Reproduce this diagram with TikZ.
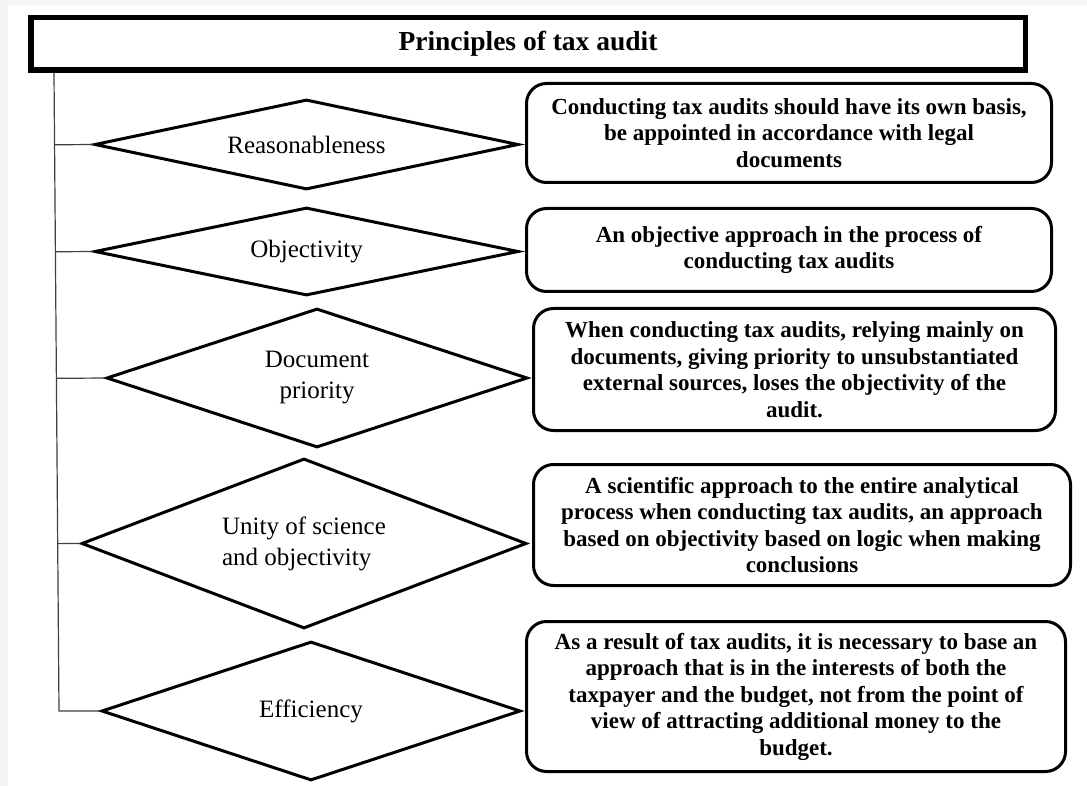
\documentclass[tikz,border=0pt]{standalone}
\usepackage{fontspec}
\setmainfont{Liberation Serif}
\usetikzlibrary{shapes.geometric,calc}

\tikzset{
        principle/.style={diamond,draw,line width=3pt,inner sep=0pt,shape aspect=4.5,align=center,font=\fontsize{25}{31}\selectfont},
        descr/.style={draw,rounded corners=20pt,line width=3pt,inner sep=0pt,align=center,font=\fontsize{23}{26.5}\selectfont\bfseries},
        header/.style={draw,line width=5.5pt,inner sep=0pt,font=\fontsize{27.5}{30}\selectfont\bfseries},
        branch/.style={black!75,line width=1.2pt}
}

\begin{document}
\begin{tikzpicture}[x=1pt,y=-1pt]
        \fill[black!4] (0,0) rectangle (1087,786);
        \fill[white] (8,5) rectangle (1087,786);
        \useasboundingbox (0,0) rectangle (1087,786);
        \node[header,minimum width=994.5pt,minimum height=52.5pt] (title) at (528,44) {Principles of tax audit};
        \node[principle,minimum width=424pt,minimum height=90pt] (r1) at (306.5,144.5) {Reasonableness};
        \node[principle,minimum width=424pt,minimum height=88pt] (r2) at (306.5,251.5) {Objectivity};
        \node[principle,shape aspect=3,minimum width=421pt,minimum height=139pt] (r3) at (317,378) {Document\\priority};
        \node[principle,shape aspect=2.6,align=left,minimum width=445pt,minimum height=170pt] (r4) at (304,543.5) {Unity of science\\and objectivity};
        \node[principle,shape aspect=3,minimum width=419pt,minimum height=139pt] (r5) at (311,711) {Efficiency};
        \node[descr,minimum width=525pt,minimum height=99pt] (e1) at (789,133) {Conducting tax audits should have its own basis,\\be appointed in accordance with legal\\documents};
        \node[descr,minimum width=525pt,minimum height=83pt] (e2) at (789,250) {An objective approach in the process of\\conducting tax audits};
        \node[descr,minimum width=522pt,minimum height=122pt] (e3) at (794.5,369.5) {When conducting tax audits, relying mainly on\\documents, giving priority to unsubstantiated\\external sources, loses the objectivity of the\\audit.};
        \node[descr,minimum width=537pt,minimum height=121pt] (e4) at (802,525) {A scientific approach to the entire analytical\\process when conducting tax audits, an approach\\based on objectivity based on logic when making\\conclusions};
        \node[descr,minimum width=539pt,minimum height=150pt] (e5) at (796,696.5) {As a result of tax audits, it is necessary to base an\\approach that is in the interests of both the\\taxpayer and the budget, not from the point of\\view of attracting additional money to the\\budget.};
        \coordinate (top) at (54,73);
        \coordinate (foot) at (59,711);
        \draw[branch] (top) -- (foot) -- (r5.west);
        \draw[branch] ($(top)!(r1.west)!(foot)$) -- (r1.west);
        \draw[branch] ($(top)!(r2.west)!(foot)$) -- (r2.west);
        \draw[branch] ($(top)!(r3.west)!(foot)$) -- (r3.west);
        \draw[branch] ($(top)!(r4.west)!(foot)$) -- (r4.west);
\end{tikzpicture}
\end{document}
